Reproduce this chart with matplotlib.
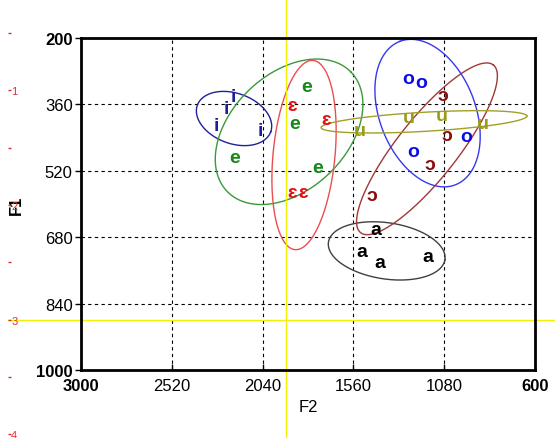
import numpy as np
import matplotlib
matplotlib.use("Agg")
import matplotlib.pyplot as plt

plt.rcParams['font.family'] = ['Liberation Sans', 'DejaVu Sans']

# vowel tokens: (F2, F1) in Hz
vowels = ["i", "e", "ɛ", "a", "ɔ", "o", "u"]
f2 = {
    "i": [2283, 2230, 2195, 2054],
    "e": [1807, 1872, 2186, 1751],
    "ɛ": [1886, 1705, 1886, 1825],
    "a": [1442, 1516, 1419, 1164],
    "ɔ": [1085, 1067, 1155, 1463],
    "o": [1270, 1203, 1246, 965],
    "u": [1525, 1270, 1093, 876],
}
f1 = {
    "i": [411, 371, 342, 423],
    "e": [316, 407, 487, 512],
    "ɛ": [363, 397, 573, 573],
    "a": [662, 715, 742, 726],
    "ɔ": [339, 434, 504, 580],
    "o": [297, 307, 474, 437],
    "u": [423, 391, 387, 407],
}

# dispersion ellipses: centre and two conjugate semi-axes (dF2, dF1)
ell_center = {
    "i": (2191, 394), "e": (1900, 426), "ɛ": (1821, 482), "a": (1384, 713),
    "ɔ": (1171, 467), "o": (1168, 381), "u": (1187, 402),
}
ell_axis1 = {
    "i": (-194, 32), "e": (-327, -144), "ɛ": (-48, -228), "a": (-308, 21),
    "ɔ": (-351, -202), "o": (146, -173), "u": (-544, -14),
}
ell_axis2 = {
    "i": (-45, -57), "e": (213, -100), "ɛ": (163, -7), "a": (-22, -67),
    "ɔ": (124, -45), "o": (237, 41), "u": (3, -23),
}

text_color = {"i": "#1c1c9c", "e": "#15881a", "ɛ": "#e01010", "a": "#000000",
              "ɔ": "#8c0c0c", "o": "#0c0ce8", "u": "#9a9a14"}
line_color = {"i": "#20209a", "e": "#3a9a3a", "ɛ": "#e85050", "a": "#404040",
              "ɔ": "#a03838", "o": "#3838f0", "u": "#a0a028"}

cross_f2 = 1915
cross_f1 = 879

fig = plt.figure(figsize=(5.55, 4.39), dpi=100)
ax = fig.add_axes([81 / 555, 1 - 371 / 439, 454 / 555, 332 / 439])

t = np.linspace(0, 2 * np.pi, 200)
for v in vowels:
    cx, cy = ell_center[v]
    ux, uy = ell_axis1[v]
    vx, vy = ell_axis2[v]
    ax.plot(cx + ux * np.cos(t) + vx * np.sin(t),
            cy + uy * np.cos(t) + vy * np.sin(t),
            color=line_color[v], lw=1)
    for x, y in zip(f2[v], f1[v]):
        ax.text(x, y, v, color=text_color[v], fontsize=14, fontweight="bold",
                ha="center", va="center")

ax.set_xlim(3000, 600)
ax.set_ylim(1000, 200)
ax.set_xticks([3000, 2520, 2040, 1560, 1080, 600])
ax.set_yticks([200, 360, 520, 680, 840, 1000])
ax.grid(True, color="black", ls=(0, (3, 3)), lw=0.8)
ax.tick_params(axis="y", direction="out", length=4, width=1, labelsize=12, pad=2)
ax.tick_params(axis="x", direction="in", length=4, width=1, labelsize=12, pad=6)
for s in ax.spines.values():
    s.set_linewidth(2)
for lab in [ax.get_xticklabels()[0], ax.get_xticklabels()[-1],
            ax.get_yticklabels()[0], ax.get_yticklabels()[-1]]:
    lab.set_fontweight("bold")

ax.set_xlabel("F2", fontsize=12, labelpad=4)
ax.set_ylabel("F1", fontsize=12, fontweight="bold")
ax.yaxis.set_label_coords(-0.125, 0.5)

# cursor cross-hair
ax.axvline(cross_f2, ymin=-0.21, ymax=1.12, color="#f0f000", lw=1, clip_on=False)
ax.axhline(cross_f1, xmin=-0.161, xmax=1.05, color="#f0f000", lw=1, clip_on=False)

# side scale
side = fig.add_axes([8 / 555, 0, 0.0001, 1])
side.set_ylim(4.034, 0.203)
for s in side.spines.values():
    s.set_visible(False)
side.set_xticks([])
side.yaxis.tick_right()
side.set_yticks([1, 2, 3, 4])
side.set_yticklabels(["1", "2", "3", "4"])
side.set_yticks([0.5, 1.5, 2.5, 3.5], minor=True)
side.tick_params(axis="y", which="both", direction="out", length=2, width=1,
                 color="#e03030", labelcolor="#e03030", labelsize=8, pad=0.3)
side.patch.set_visible(False)

fig.savefig("out.png", dpi=100)
